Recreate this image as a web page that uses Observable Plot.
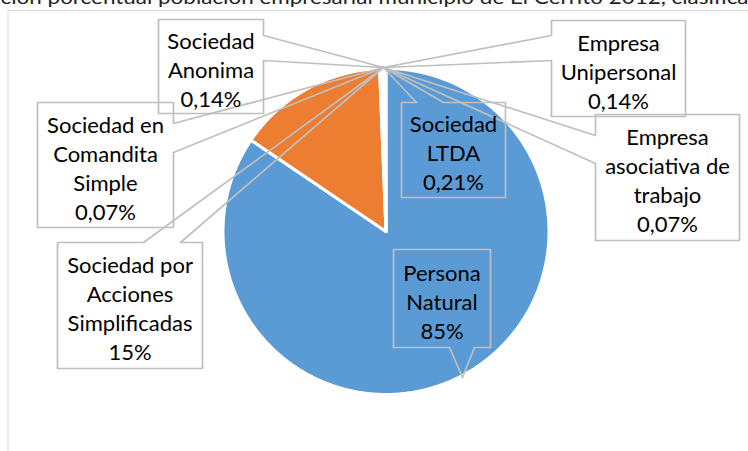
<!DOCTYPE html>
<html><head><meta charset="utf-8">
<script src="https://cdn.jsdelivr.net/npm/d3@7"></script>
<script src="https://cdn.jsdelivr.net/npm/@observablehq/plot@0.6"></script>
<style>body{margin:0;background:#fff;}</style>
</head><body><div id="chart"></div>
<script>
// ---- data ----
const categories = ["Persona Natural", "Sociedad por Acciones Simplificadas", "Sociedad Anonima", "Sociedad en Comandita Simple", "Sociedad LTDA", "Empresa Unipersonal", "Empresa asociativa de trabajo"];
const values = [85, 15, 0.14, 0.07, 0.21, 0.14, 0.07];
const valueLabels = ["85%", "15%", "0,14%", "0,07%", "0,21%", "0,14%", "0,07%"];
const nameLines = [["Persona", "Natural"], ["Sociedad por", "Acciones", "Simplificadas"], ["Sociedad", "Anonima"], ["Sociedad en", "Comandita", "Simple"], ["Sociedad", "LTDA"], ["Empresa", "Unipersonal"], ["Empresa", "asociativa de", "trabajo"]];
const titleText = "ción porcentual población empresarial municipio de El Cerrito 2012, clasifica";

// ---- styles / layout (not data) ----
const sliceColors = ["#5B9BD5", "#ED7D31", "#A5A5A5", "#FFC000", "#4472C4", "#70AD47", "#255E91"];
const W = 748, H = 451;
const pie = {cx: 385.5, cy: 231, r: 163};
const apex = [383, 67];
const callouts = [
  {box: [393, 249, 490, 347], side: "bottom", a: 449, b: 474, tip: [462, 377]},
  {box: [57, 242, 202, 368], side: "top", a: 143, b: 180, tip: apex},
  {box: [158, 19, 263, 113], side: "right", a: 35, b: 60, tip: apex},
  {box: [37, 102, 173, 227], side: "right", a: 123, b: 152, tip: apex},
  {box: [401, 102, 505, 197], side: "top", a: 416, b: 443, tip: apex},
  {box: [551, 20, 685, 116], side: "left", a: 35, b: 60, tip: apex},
  {box: [595, 114, 739, 240], side: "left", a: 135, b: 163, tip: apex}
];
const FONT = "Lato, 'Open Sans', sans-serif";

// ---- pie geometry from the values ----
const arcs = d3.pie().sort(null).value(d => d)(values);
function slicePts(arc) {
  const pts = [[pie.cx, pie.cy]];
  const step = Math.PI / 360;
  const n = Math.max(1, Math.ceil((arc.endAngle - arc.startAngle) / step));
  for (let i = 0; i <= n; i++) {
    const a = arc.startAngle + (arc.endAngle - arc.startAngle) * i / n;
    pts.push([pie.cx + pie.r * Math.sin(a), pie.cy - pie.r * Math.cos(a)]);
  }
  return pts;
}
function calloutPts(c) {
  const [x1, y1, x2, y2] = c.box, {a, b, tip} = c;
  const p = [[x1, y1]];
  if (c.side === "top") p.push([a, y1], tip, [b, y1]);
  p.push([x2, y1]);
  if (c.side === "right") p.push([x2, a], tip, [x2, b]);
  p.push([x2, y2]);
  if (c.side === "bottom") p.push([b, y2], tip, [a, y2]);
  p.push([x1, y2]);
  if (c.side === "left") p.push([x1, b], tip, [x1, a]);
  return p;
}

const marks = [];
marks.push(Plot.ruleX([7.5], {y1: 10, y2: H, stroke: "#d9d9d9", strokeWidth: 1}));
marks.push(Plot.ruleY([10], {x1: 7.5, x2: W, stroke: "#d9d9d9", strokeWidth: 1}));
arcs.forEach((arc, i) => {
  marks.push(Plot.line(slicePts(arc), {x: d => d[0], y: d => d[1], curve: "linear-closed", fill: sliceColors[i], stroke: "white", strokeWidth: 3, strokeLinejoin: "round"}));
});
callouts.forEach(c => {
  marks.push(Plot.line(calloutPts(c), {x: d => d[0], y: d => d[1], curve: "linear-closed", fill: "none", stroke: "#bfbfbf", strokeWidth: 1.7}));
});
const labelData = categories.map((cat, i) => ({
  x: (callouts[i].box[0] + callouts[i].box[2]) / 2,
  y: (callouts[i].box[1] + callouts[i].box[3]) / 2,
  text: nameLines[i].concat([valueLabels[i]]).join("\n")
}));
marks.push(Plot.text(labelData, {x: "x", y: "y", text: "text", fontSize: 22, lineHeight: 29 / 22, dy: 2, fill: "#000", fontFamily: FONT, lineAnchor: "middle", textAnchor: "middle"}));
marks.push(Plot.text([titleText], {frameAnchor: "top-left", text: d => d, fontSize: 20, fill: "#222", fontFamily: FONT, textAnchor: "start", lineAnchor: "top", dx: 0, dy: -11}));

const chart = Plot.plot({
  width: W, height: H,
  margin: 0,
  x: {domain: [0, W], range: [0, W], axis: null},
  y: {domain: [0, H], range: [0, H], axis: null},
  style: {fontFamily: FONT, background: "white", overflow: "visible"},
  marks
});
document.getElementById("chart").appendChild(chart);
d3.select(chart).selectAll("text").filter(function() { return this.textContent === titleText; })
  .attr("textLength", 748).attr("lengthAdjust", "spacingAndGlyphs");
</script>
</body></html>
